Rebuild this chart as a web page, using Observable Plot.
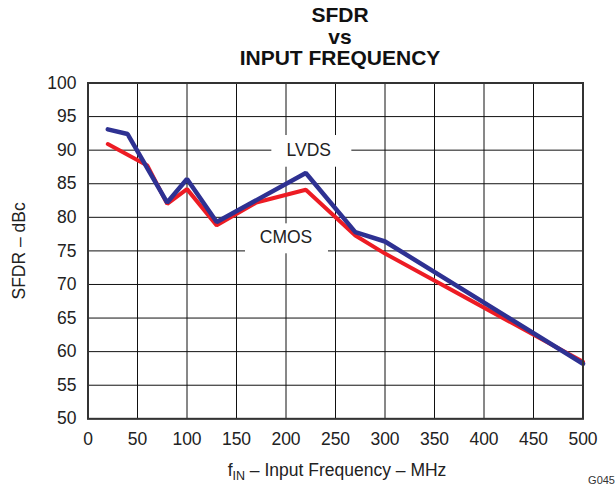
<!DOCTYPE html>
<html>
<head>
<meta charset="utf-8">
<script src="https://cdn.jsdelivr.net/npm/d3@7"></script>
<script src="https://cdn.jsdelivr.net/npm/@observablehq/plot@0.6"></script>
<style>
html, body { margin: 0; padding: 0; background: #fff; overflow: hidden; }
body { width: 615px; height: 486px; position: relative; font-family: "Liberation Sans", Arial, Helvetica, sans-serif; color: #222; }
#title { height: 68px; box-sizing: border-box; padding-top: 4px; padding-left: 65px; text-align: center; font-weight: bold; font-size: 21px; line-height: 21.5px; color: #111; }
#chart svg { display: block; }
#xlabel { position: absolute; left: 337px; top: 461.9px; transform: translateX(-50%); white-space: nowrap; font-size: 17.5px; line-height: 17px; }
#xlabel sub { font-size: 12.5px; vertical-align: baseline; position: relative; top: 4px; }
#code { position: absolute; right: 0px; top: 474.7px; font-size: 11px; line-height: 11px; color: #333; }
</style>
</head>
<body>
<div id="title">SFDR<br>vs<br>INPUT FREQUENCY</div>
<div id="chart"></div>
<div id="xlabel">f<sub>IN</sub> – Input Frequency – MHz</div>
<div id="code">G045</div>
<script>
// Series values
const lvdsFreq = [20, 40, 80, 100, 130, 220, 270, 300, 500];
const lvdsSfdr = [93.1, 92.4, 82.2, 85.7, 79.3, 86.6, 77.8, 76.4, 58.2];
const cmosFreq = [20, 60, 80, 100, 130, 170, 220, 270, 300, 500];
const cmosSfdr = [90.9, 87.7, 82.0, 84.2, 78.8, 82.2, 84.1, 77.3, 74.6, 58.5];

// Axis ticks
const xTicks = [0, 50, 100, 150, 200, 250, 300, 350, 400, 450, 500];
const yTicks = [50, 55, 60, 65, 70, 75, 80, 85, 90, 95, 100];

// Series labels (data units) and their white label boxes
const labelNames = ["LVDS", "CMOS"];
const labelFreq = [223, 200];
const labelSfdr = [90, 77];
const boxFreqFrom = [185.7, 159.1];
const boxFreqTo = [266.5, 242.9];
const boxSfdrFrom = [87.46, 74.57];
const boxSfdrTo = [92.18, 79.03];

const lvds = lvdsFreq.map((f, i) => ({f, v: lvdsSfdr[i]}));
const cmos = cmosFreq.map((f, i) => ({f, v: cmosSfdr[i]}));
const labels = labelNames.map((name, i) => ({name, f: labelFreq[i], v: labelSfdr[i]}));
const boxes = labelNames.map((name, i) => ({x1: boxFreqFrom[i], x2: boxFreqTo[i], y1: boxSfdrFrom[i], y2: boxSfdrTo[i]}));

const chart = Plot.plot({
  width: 615,
  height: 386,
  marginLeft: 87.5,
  marginRight: 32.5,
  marginTop: 14.5,
  marginBottom: 35.7,
  style: {fontFamily: "Liberation Sans, Arial, sans-serif", fontSize: "17.5px", color: "#222", background: "#fff", overflow: "visible"},
  x: {domain: [0, 500], ticks: xTicks, tickSize: 0, tickPadding: 13.5, label: null},
  y: {domain: [50, 100], ticks: yTicks, tickSize: 0, tickPadding: 11.5, label: "SFDR – dBc", labelAnchor: "center", labelArrow: "none", labelOffset: 75.5},
  marks: [
    Plot.gridX({ticks: xTicks, stroke: "#111", strokeOpacity: 1, strokeWidth: 1}),
    Plot.gridY({ticks: yTicks, stroke: "#111", strokeOpacity: 1, strokeWidth: 1}),
    Plot.rect(boxes, {x1: "x1", x2: "x2", y1: "y1", y2: "y2", fill: "#fff"}),
    Plot.line(cmos, {x: "f", y: "v", stroke: "#ED1C24", strokeWidth: 4, strokeLinejoin: "miter"}),
    Plot.line(lvds, {x: "f", y: "v", stroke: "#2E3192", strokeWidth: 4.5, strokeLinejoin: "miter"}),
    Plot.text(labels, {x: "f", y: "v", text: "name", fontSize: 17.5, fill: "#222"}),
    Plot.frame({stroke: "#333", strokeWidth: 2})
  ]
});
document.getElementById("chart").appendChild(chart);
</script>
</body>
</html>
